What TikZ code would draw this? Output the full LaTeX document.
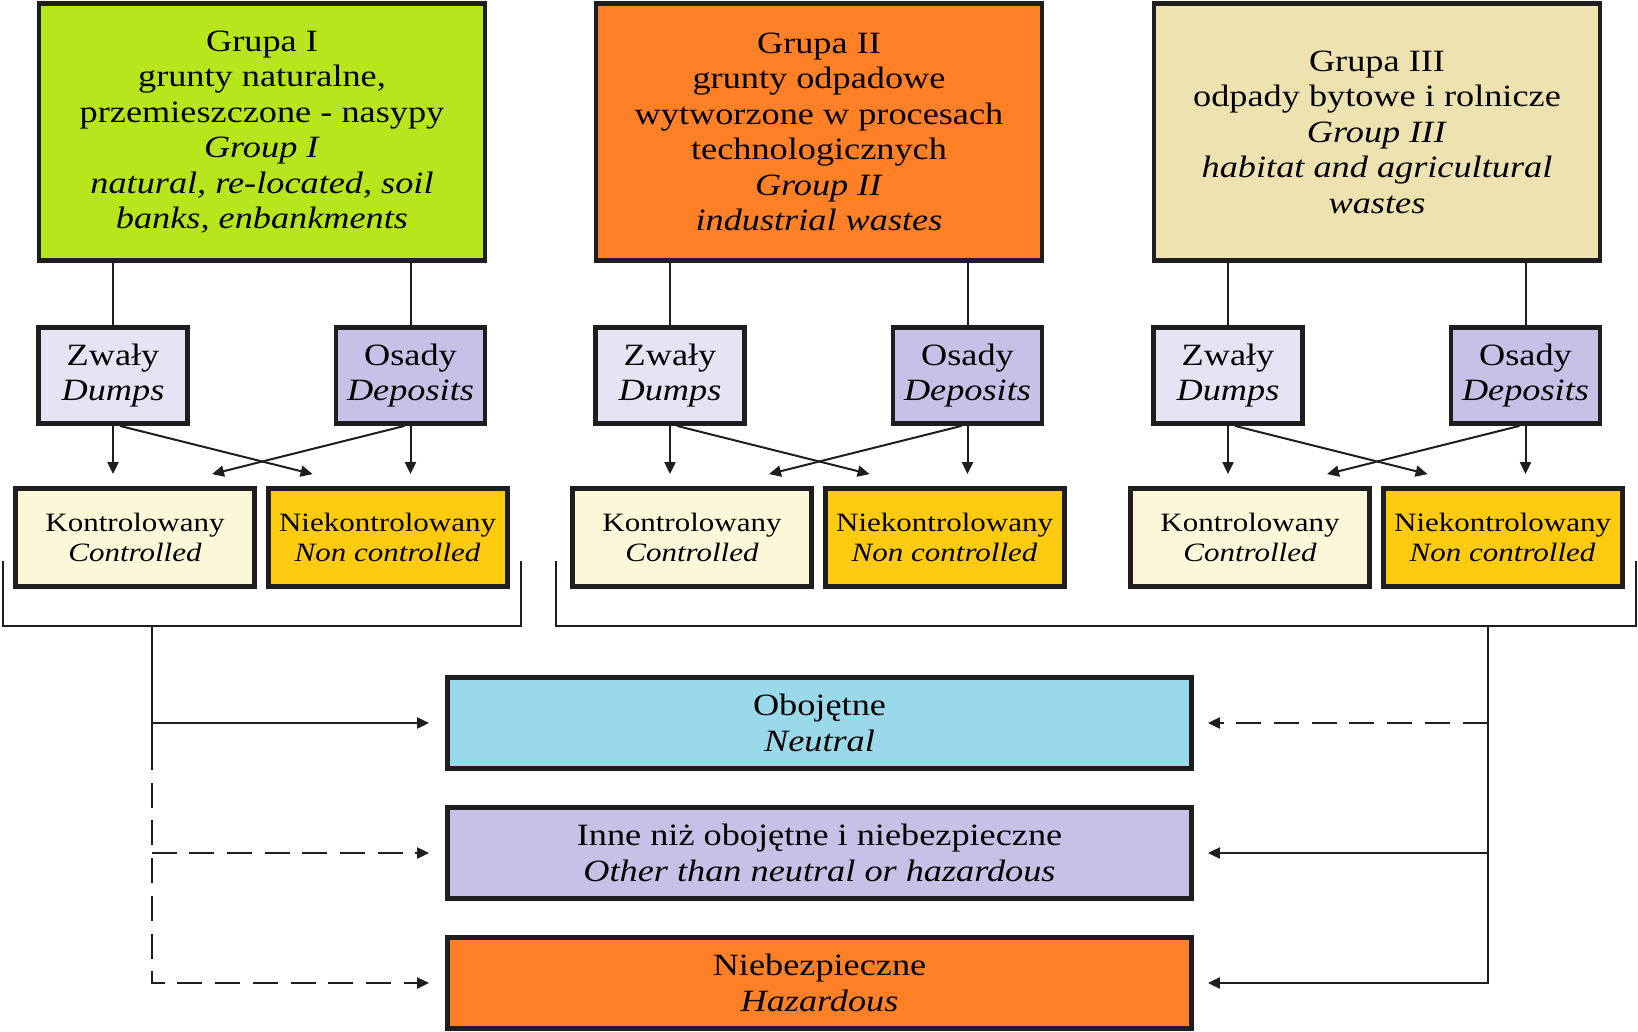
\documentclass[tikz,border=0pt]{standalone}
\usepackage{fontspec}
\setmainfont[FakeStretch=1.17]{Liberation Serif}
\usepackage{tikz}
\usetikzlibrary{arrows.meta, positioning, calc}
\definecolor{grpone}{RGB}{183, 230, 28}
\definecolor{grptwo}{RGB}{255, 128, 39}
\definecolor{grpthree}{RGB}{238, 226, 176}
\definecolor{dumpfill}{RGB}{231, 226, 244}
\definecolor{depfill}{RGB}{200, 192, 230}
\definecolor{ctrlfill}{RGB}{251, 248, 218}
\definecolor{nctrlfill}{RGB}{255, 203, 15}
\definecolor{neufill}{RGB}{154, 217, 234}
\definecolor{othfill}{RGB}{200, 192, 230}
\definecolor{hazfill}{RGB}{255, 128, 39}
\definecolor{edge}{RGB}{30, 30, 30}

\begin{document}
\begin{tikzpicture}[x=1pt, y=-1pt,
  box/.style={draw=edge, line width=4.8pt, rectangle, align=center, inner sep=0pt},
  grp/.style={box, minimum width=446pt, minimum height=257pt, font={\fontsize{31}{35.5}\selectfont}},
  kind/.style={box, minimum width=149pt, minimum height=96pt, font={\fontsize{31}{35.5}\selectfont}},
  ctrl/.style={box, minimum width=239pt, minimum height=98pt, font={\fontsize{26.5}{30.3}\selectfont}},
  cls/.style={box, minimum width=744pt, minimum height=91pt, font={\fontsize{31}{35.5}\selectfont}},
  link/.style={draw=edge, line width=2pt},
  arr/.style={link, -{Triangle[length=12pt, width=11pt]}},
  dashline/.style={dash pattern=on 25pt off 12.7pt}]
\useasboundingbox (0,0) rectangle (1638,1031);

% groups
\node[grp, fill=grpone] (g1) at (262,132) {Grupa I\\grunty naturalne,\\przemieszczone - nasypy\\\textit{Group I}\\\textit{natural, re-located, soil}\\\textit{banks, enbankments}};
\node[grp, fill=grptwo] (g2) at (819,132) {Grupa II\\grunty odpadowe\\wytworzone w procesach\\technologicznych\\\textit{Group II}\\\textit{industrial wastes}};
\node[grp, fill=grpthree] (g3) at (1377,132) {Grupa III\\odpady bytowe i rolnicze\\\textit{Group III}\\\textit{habitat and agricultural}\\\textit{wastes}};

% dumps / deposits
\node[kind, fill=dumpfill] (zw1) at (113,375.5) {Zwały\\\textit{Dumps}};
\node[kind, fill=depfill] (os1) at (410.5,375.5) {Osady\\\textit{Deposits}};
\node[kind, fill=dumpfill] (zw2) at (670,375.5) {Zwały\\\textit{Dumps}};
\node[kind, fill=depfill] (os2) at (967.5,375.5) {Osady\\\textit{Deposits}};
\node[kind, fill=dumpfill] (zw3) at (1228,375.5) {Zwały\\\textit{Dumps}};
\node[kind, fill=depfill] (os3) at (1525.5,375.5) {Osady\\\textit{Deposits}};

% controlled / non controlled
\node[ctrl, fill=ctrlfill] (k1) at (135,537.5) {Kontrolowany\\\textit{Controlled}};
\node[ctrl, fill=nctrlfill] (n1) at (387.6,537.5) {Niekontrolowany\\\textit{Non controlled}};
\node[ctrl, fill=ctrlfill] (k2) at (692,537.5) {Kontrolowany\\\textit{Controlled}};
\node[ctrl, fill=nctrlfill] (n2) at (944.6,537.5) {Niekontrolowany\\\textit{Non controlled}};
\node[ctrl, fill=ctrlfill] (k3) at (1250,537.5) {Kontrolowany\\\textit{Controlled}};
\node[ctrl, fill=nctrlfill] (n3) at (1502.6,537.5) {Niekontrolowany\\\textit{Non controlled}};

% classes
\node[cls, fill=neufill] (neu) at (819.5,723) {Obojętne\\\textit{Neutral}};
\node[cls, fill=othfill] (oth) at (819.5,853) {Inne niż obojętne i niebezpieczne\\\textit{Other than neutral or hazardous}};
\node[cls, fill=hazfill] (haz) at (819.5,983) {Niebezpieczne\\\textit{Hazardous}};

% group I links
\draw[link] (g1.south -| zw1.north) -- (zw1.north);
\draw[link] (g1.south -| os1.north) -- (os1.north);
\draw[arr, shorten >=12pt] (zw1.south) -- (zw1.south |- k1.north);
\draw[arr] ($(zw1.south)+(7,0)$) -- ($(n1.north)+(-75,-12)$);
\draw[arr] ($(os1.south)+(-6,0)$) -- ($(k1.north)+(77,-12)$);
\draw[arr, shorten >=12pt] (os1.south) -- (os1.south |- n1.north);

% group II links
\draw[link] (g2.south -| zw2.north) -- (zw2.north);
\draw[link] (g2.south -| os2.north) -- (os2.north);
\draw[arr, shorten >=12pt] (zw2.south) -- (zw2.south |- k2.north);
\draw[arr] ($(zw2.south)+(7,0)$) -- ($(n2.north)+(-75,-12)$);
\draw[arr] ($(os2.south)+(-6,0)$) -- ($(k2.north)+(77,-12)$);
\draw[arr, shorten >=12pt] (os2.south) -- (os2.south |- n2.north);

% group III links
\draw[link] (g3.south -| zw3.north) -- (zw3.north);
\draw[link] (g3.south -| os3.north) -- (os3.north);
\draw[arr, shorten >=12pt] (zw3.south) -- (zw3.south |- k3.north);
\draw[arr] ($(zw3.south)+(7,0)$) -- ($(n3.north)+(-75,-12)$);
\draw[arr] ($(os3.south)+(-6,0)$) -- ($(k3.north)+(77,-12)$);
\draw[arr, shorten >=12pt] (os3.south) -- (os3.south |- n3.north);

% brackets
\coordinate (bla) at (2.7,561);
\coordinate (blb) at (521,561);
\coordinate (bra) at (555.7,561);
\coordinate (brb) at (1636,561);
\draw[link] (bla) -- ++(0,64.5) -| (blb);
\draw[link] (bra) -- ++(0,64.5) -| (brb);
\coordinate (dl) at (151.5,625.5);
\coordinate (dr) at (1487.5,625.5);

% left drop
\draw[link] (dl) -- ++(0,120);
\draw[arr, shorten >=16pt] (dl |- neu.west) -- (neu.west);
\draw[arr, dashline, shorten >=16pt] (dl |- oth.west) -- (oth.west);
\draw[arr, dashline, shorten >=16pt] ($(dl |- neu.west)+(0,22)$) |- (haz.west);

% right drop
\draw[arr, shorten >=14pt] (dr) |- (haz.east);
\draw[arr, shorten >=14pt] (dr |- oth.east) -- (oth.east);
\draw[arr, dashline, shorten >=14pt] (dr |- neu.east) -- (neu.east);
\end{tikzpicture}
\end{document}
